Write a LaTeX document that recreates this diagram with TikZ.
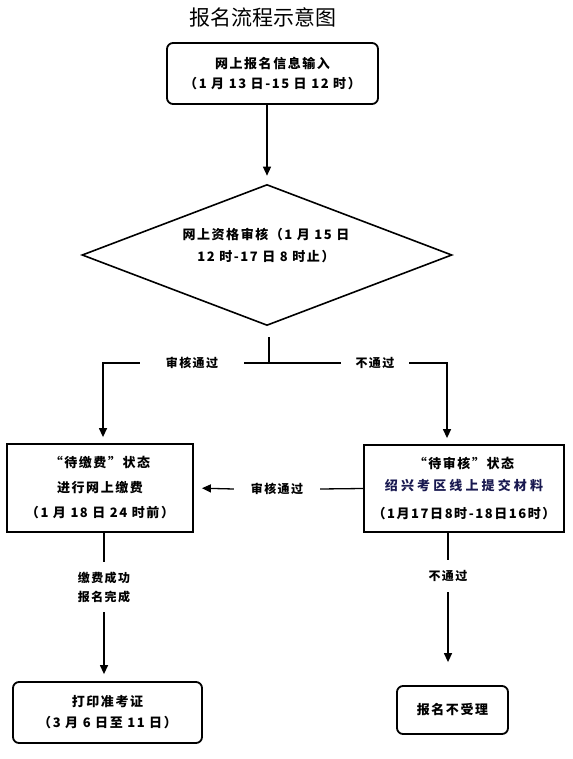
\documentclass[tikz,border=0pt]{standalone}
\usepackage{fontspec}
\setmainfont{Noto Sans CJK SC}
\newfontfamily\boxfont{Noto Sans CJK SC}[LetterSpace=12]
\usepackage{tikz}
\usetikzlibrary{arrows.meta,shapes.geometric,calc}
\usetikzlibrary{positioning}
\definecolor{navy}{RGB}{25,25,80}
\tikzset{
    rbox/.style={
           rectangle,
           rounded corners=6pt,
           draw=black, line width=1.8pt,
           align=center,
           inner sep=0pt,
           },
    sbox/.style={
           rectangle,
           draw=black, line width=1.8pt,
           align=center,
           inner sep=0pt,
           },
    dia/.style={
           diamond,
           draw=black, line width=1.6pt,
           inner sep=0pt,
           },
    tag/.style={
           inner sep=0pt,
           align=center,
           font=\boxfont\bfseries\fontsize{12}{19}\selectfont,
           },
    lin/.style={
           line width=1.3pt,
           },
    arr/.style={
           -{Triangle[length=9pt,width=8pt]},
           line width=1.3pt,
           },
}

\begin{document}
\begin{tikzpicture}[x=1pt,y=-1pt]
\tikzstyle{every node}=[font=\boxfont\bfseries\fontsize{13}{20}\selectfont]
\useasboundingbox (0,0) rectangle (572,759);
% title
\node[font=\mdseries\fontsize{21}{24}\selectfont] (title) at (263,17) {报名流程示意图};
% boxes
\node[rbox, minimum width=211pt, minimum height=61pt] (b1) at (272.5,73.5) {网上报名信息输入\\（1 月 13 日-15 日 12 时）};
\node[dia, minimum width=370pt, minimum height=141pt] (d) at (267,255) {};
\node[align=center, font=\boxfont\bfseries\fontsize{13}{22}\selectfont] (dtxt) at (266,246) {网上资格审核（1 月 15 日\\12 时-17 日 8 时止）};
\node[sbox, minimum width=186pt, minimum height=88pt, font=\boxfont\bfseries\fontsize{13}{25}\selectfont] (pay) at (100,488) {“待缴费”状态\\进行网上缴费\\（1 月 18 日 24 时前）};
\node[sbox, minimum width=200pt, minimum height=87pt, font=\boxfont\bfseries\fontsize{13}{22}\selectfont] (chk) at (464,488.5) {“待审核”状态\\{\color{navy}\addfontfeature{LetterSpace=24}绍兴考区线上提交材料}\\[6pt]（1月17日8时-18日16时）};
\node[rbox, minimum width=189pt, minimum height=61pt, font=\boxfont\bfseries\fontsize{13}{21}\selectfont] (prt) at (107.5,712.5) {打印准考证\\（3 月 6 日至 11 日）};
\node[rbox, minimum width=111pt, minimum height=48pt] (rej) at (452.5,710) {报名不受理};
% labels
\node[tag, minimum width=104pt, minimum height=14pt] (ok1) at (192,363) {审核通过};
\node[tag, minimum width=68pt, minimum height=14pt] (no1) at (375,363) {不通过};
\node[tag, minimum width=86pt, minimum height=14pt] (ok2) at (277,489) {审核通过};
\node[tag, minimum height=50pt] (pd) at (104,587) {缴费成功\\报名完成};
\node[tag, minimum height=32pt] (nd) at (448,576) {不通过};
\coordinate (t) at (269,337);
\coordinate (s) at (269,363);
\coordinate (l) at (103,363);
\coordinate (r) at (447,363);
% connectors
\draw[arr, shorten >=8pt] (b1.south -| d.north) -- (d.north);
\draw[lin] (t) -- (s);
\draw[lin] (s) -- (ok1.east);
\draw[lin] (s) -- (no1.west);
\draw[arr, shorten >=6pt] (ok1.west) -- (l) -- (l |- pay.north);
\draw[arr, shorten >=6pt] (no1.east) -- (r) -- (r |- chk.north);
\draw[lin] (chk.west) -- (ok2.east);
\draw[arr, shorten >=8pt] (ok2.west) -- (pay.east);
\draw[lin] (pay.south -| pd.north) -- (pd.north);
\draw[arr, shorten >=7pt] (pd.south) -- (pd.south |- prt.north);
\draw[lin] (chk.south -| nd.north) -- (nd.north);
\draw[arr, shorten >=23pt] (nd.south) -- (nd.south |- rej.north);
\end{tikzpicture}
\end{document}
